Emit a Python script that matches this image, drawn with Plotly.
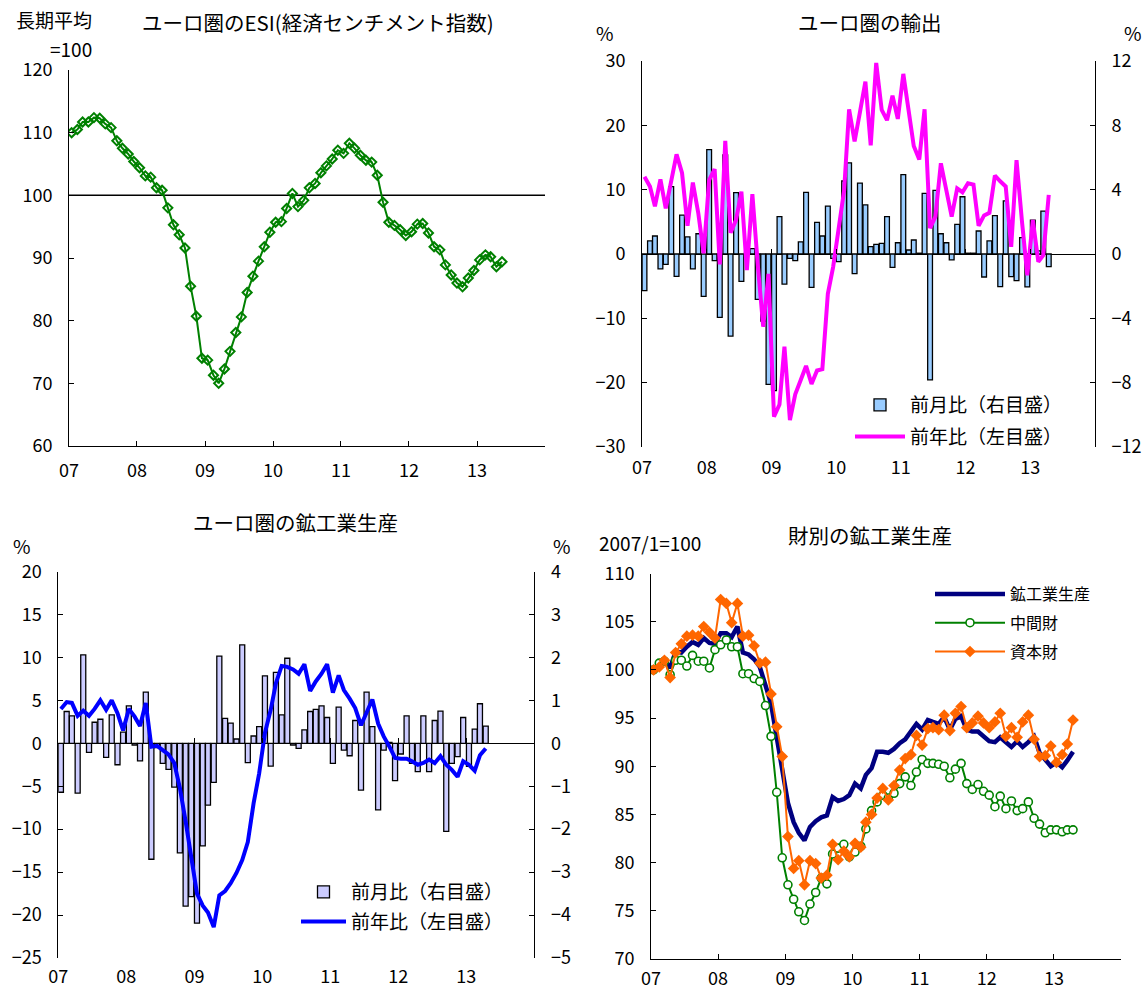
import pandas as pd
import plotly.graph_objects as go

FONT = "Noto Sans CJK JP"
W, H = 1145, 993

# ---------------- data ----------------
year_ticks = ["2007-01-01", "2008-01-01", "2009-01-01", "2010-01-01", "2011-01-01",
              "2012-01-01", "2013-01-01", "2014-01-01"]
year_labels = ["07", "08", "09", "10", "11", "12", "13", ""]

esi_months = (pd.date_range("2007-01-01", periods=77, freq="MS") + pd.Timedelta(days=14)).tolist()
months = (pd.date_range("2007-01-01", periods=76, freq="MS") + pd.Timedelta(days=14)).tolist()

# ESI (long-term average = 100)
esi = [110.0, 110.5, 111.7, 111.7, 112.4, 112.3, 111.4, 110.8, 108.7, 107.5, 106.6, 105.4,
       104.4, 103.1, 102.9, 101.2, 100.8, 98.0, 95.3, 93.7, 91.6, 85.5, 80.7, 74.0,
       73.7, 71.3, 70.0, 72.3, 75.1, 78.1, 80.6, 84.5, 87.1, 89.5, 91.8, 94.1,
       95.7, 95.8, 97.9, 100.3, 98.2, 99.2, 101.2, 101.9, 103.6, 104.7, 105.8, 107.2,
       106.7, 108.3, 107.5, 106.4, 105.6, 105.3, 103.2, 98.9, 95.7, 95.2, 94.5, 93.6,
       94.2, 95.4, 95.5, 94.0, 91.8, 91.3, 88.9, 87.3, 86.0, 85.4, 86.8, 88.0,
       89.7, 90.5, 90.2, 88.6, 89.4]

# Euro-area exports: m/m % (right scale) and y/y % (left scale)
exp_mom = [-2.28, 0.81, 1.12, -0.93, -0.64, 4.19, -1.39, 2.42, 1.06, -0.93, 1.26, -2.63,
           6.49, -0.41, -3.94, 6.16, -5.10, 3.81, -1.70, 0.10, 0.33, -2.82, -4.17, -8.10,
           -8.50, 2.32, -1.87, -0.27, -0.41, 0.75, 3.83, -2.07, 1.97, 1.12, 2.98, -0.27,
           -0.48, 4.54, 5.66, -1.22, 4.41, 3.05, 0.46, 0.60, 0.66, 2.32, -0.83, 0.70,
           4.93, 0.25, 0.87, 0.05, 3.77, -7.83, 3.96, 1.26, 0.70, -0.37, 1.84, 3.56,
           0.05, 0.05, 1.43, -1.43, 0.81, 2.38, -2.03, 3.30, -1.41, -1.66, 1.02, -2.05,
           2.11, 0.20, 2.67, -0.79]
exp_yoy = [12.0, 10.5, 7.4, 11.6, 7.1, 11.3, 15.5, 12.6, 4.4, 11.1, 6.3, 0.1,
           11.5, 13.2, -1.6, 17.6, 3.3, 5.3, 9.7, -2.5, 9.3, -1.5, -11.3, -3.1,
           -25.3, -23.4, -14.4, -25.8, -21.8, -19.6, -17.4, -20.2, -18.1, -17.9, -6.2, -2.0,
           3.7, 9.9, 22.5, 17.5, 22.0, 26.8, 16.9, 29.7, 22.4, 20.8, 24.6, 21.0,
           28.0, 22.4, 16.8, 14.7, 22.5, 4.0, 5.8, 14.1, 9.9, 5.8, 10.2, 9.6,
           11.0, 10.8, 4.4, 6.0, 6.4, 12.2, 11.3, 10.5, 1.1, 14.6, 5.0, -3.3,
           5.3, -1.2, -0.2, 9.2]

# Euro-area industrial production: m/m % (right scale) and y/y % (left scale)
ip_mom = [-1.14, 0.74, 0.64, -1.16, 2.06, -0.21, 0.49, 0.56, -0.33, 0.66, -0.50, 0.26,
          0.87, -0.04, -0.41, 1.19, -2.70, -0.10, -0.47, -0.61, -1.02, -2.55, -3.79, -3.57,
          -4.19, -2.39, -1.44, -0.91, 2.03, 0.58, 0.47, 0.10, 2.29, -0.45, 0.17, 0.39,
          1.57, -0.53, 1.65, 0.66, 1.98, -0.04, -0.12, 0.31, 0.74, 0.79, 0.87, 0.60,
          -0.47, 0.84, -0.16, -0.29, 0.53, -1.09, 1.19, 0.39, -1.55, -0.16, 0.02, -0.87,
          -0.25, 0.64, -0.47, -0.66, 0.64, -0.66, 0.53, 0.75, -2.05, -0.47, -0.31, 0.60,
          -0.54, 0.33, 0.92, 0.40]
ip_yoy = [4.0, 4.8, 4.7, 3.2, 3.8, 3.2, 4.0, 5.0, 3.9, 5.0, 3.5, 1.5,
          4.0, 3.1, 2.0, 4.7, -0.4, -0.3, -0.8, -1.3, -2.3, -5.2, -9.1, -13.6,
          -17.5, -18.9, -19.7, -21.4, -17.7, -17.2, -16.3, -15.1, -13.6, -11.5, -7.0, -3.5,
          1.2, 3.9, 7.0, 9.0, 8.9, 8.6, 8.1, 9.2, 6.1, 7.2, 8.1, 9.2,
          5.9, 7.9, 6.2, 5.2, 4.1, 2.1, 3.6, 5.1, 2.3, 0.8, -0.4, -1.7,
          -1.8, -1.8, -2.1, -2.5, -2.3, -1.9, -2.3, -1.5, -2.5, -3.1, -3.9, -2.1,
          -2.5, -3.2, -1.4, -0.6]

# Production by goods (2007/1 = 100)
ip_total = [100.0, 100.4, 101.0, 100.2, 101.9, 101.8, 102.4, 102.9, 102.6, 103.3, 102.8, 102.7,
            103.8, 103.8, 103.4, 104.5, 101.8, 101.6, 101.1, 100.3, 98.4, 96.5, 93.0, 89.8,
            86.2, 84.2, 83.1, 82.3, 83.7, 84.3, 84.7, 84.9, 86.8, 86.4, 86.6, 87.0,
            88.2, 87.7, 89.1, 89.8, 91.5, 91.5, 91.4, 91.8, 92.4, 92.8, 93.7, 94.4,
            93.8, 94.8, 94.6, 94.4, 95.1, 93.8, 94.9, 95.2, 93.8, 93.6, 93.6, 93.1,
            92.6, 92.5, 93.0, 92.5, 92.0, 92.6, 92.0, 92.5, 93.1, 91.4, 90.6, 90.0,
            90.4, 89.9, 90.6, 91.5]
ip_intermediate = [100.0, 100.7, 100.9, 99.5, 101.0, 101.0, 100.4, 101.5, 100.9, 100.9, 100.2, 102.1,
                   102.6, 103.1, 102.4, 102.4, 99.6, 99.6, 99.1, 98.8, 96.3, 93.1, 87.3, 80.5,
                   77.7, 76.2, 74.9, 74.0, 75.7, 76.9, 78.4, 77.8, 80.9, 81.5, 81.9, 80.6,
                   81.1, 81.7, 83.5, 85.4, 86.3, 87.0, 86.7, 87.2, 88.2, 88.9, 88.0, 89.4,
                   90.7, 90.3, 90.3, 90.2, 90.0, 88.8, 89.7, 90.3, 88.2, 87.6, 88.1, 87.4,
                   87.0, 85.8, 86.9, 85.6, 86.4, 85.4, 85.6, 86.3, 84.6, 84.0, 83.1, 83.4,
                   83.4, 83.2, 83.4, 83.4]
ip_capital = [100.0, 100.3, 101.0, 99.2, 101.8, 102.7, 103.5, 103.6, 103.5, 104.5, 103.9, 103.3,
              107.3, 106.9, 104.9, 106.9, 103.5, 103.6, 102.5, 100.7, 100.8, 97.5, 94.1, 91.0,
              82.7, 79.4, 80.2, 77.7, 80.2, 79.9, 78.4, 78.7, 81.9, 80.3, 81.2, 80.6,
              82.0, 81.6, 84.2, 85.0, 86.7, 87.7, 86.5, 88.0, 89.6, 90.8, 91.2, 93.2,
              92.2, 93.9, 94.0, 93.8, 95.3, 93.7, 95.5, 96.2, 94.0, 94.5, 95.2, 94.5,
              94.0, 94.6, 95.5, 93.1, 94.0, 93.0, 94.6, 95.3, 92.8, 91.0, 91.1, 92.1,
              90.4, 91.2, 92.3, 94.8]

# ---------------- layout helpers ----------------
def xd(a, b):
    return [a / W, b / W]


def yd(top, bottom):
    return [1 - bottom / H, 1 - top / H]


def py(pix):
    return 1 - pix / H


TICKFONT = dict(family=FONT, size=18, color="black")
BAR_W = 27 * 24 * 3600 * 1000

base_axis = dict(showgrid=False, zeroline=False, showline=True, linecolor="black", linewidth=1,
                 ticks="inside", ticklen=5, tickcolor="black", tickwidth=1, tickfont=TICKFONT)


def xaxis(domain, anchor, **kw):
    d = dict(base_axis)
    d.update(dict(domain=domain, anchor=anchor, type="date", range=["2007-01-01", "2014-01-01"],
                  tickmode="array", tickvals=year_ticks, ticktext=year_labels,
                  ticklabelstandoff=8))
    d.update(kw)
    return d


def yaxis(domain, anchor, rng, dtick, **kw):
    d = dict(base_axis)
    d.update(dict(domain=domain, anchor=anchor, range=rng, dtick=dtick, tick0=0,
                  ticklabelstandoff=12))
    d.update(kw)
    return d


fig = go.Figure()

# ---- panel 1: ESI ----
fig.add_trace(go.Scatter(x=esi_months, y=esi, mode="lines+markers", xaxis="x", yaxis="y",
                         line=dict(color="#008000", width=2),
                         marker=dict(symbol="diamond-open", size=7, color="#008000",
                                     line=dict(width=2, color="#008000")),
                         showlegend=False))

# ---- panel 2: exports ----
fig.add_trace(go.Bar(x=months, y=exp_mom, xaxis="x2", yaxis="y2", width=BAR_W,
                     marker=dict(color="#99CCFF", line=dict(color="black", width=1.3)),
                     name="前月比（右目盛）", legend="legend2", legendgroup="e1"))
fig.add_trace(go.Scatter(x=months, y=exp_yoy, mode="lines", xaxis="x2", yaxis="y3",
                         line=dict(color="#FF00FF", width=4),
                         name="前年比（左目盛）", legend="legend2", legendgroup="e2"))
fig.add_trace(go.Scatter(x=[months[0]], y=[None], xaxis="x5", yaxis="y2", showlegend=False,
                         hoverinfo="skip"))

# ---- panel 3: industrial production ----
fig.add_trace(go.Bar(x=months, y=ip_mom, xaxis="x3", yaxis="y4", width=BAR_W,
                     marker=dict(color="#CCCCFF", line=dict(color="black", width=1.3)),
                     name="前月比（右目盛）", legend="legend3", legendgroup="p1"))
fig.add_trace(go.Scatter(x=months, y=ip_yoy, mode="lines", xaxis="x3", yaxis="y5",
                         line=dict(color="#0000FF", width=4),
                         name="前年比（左目盛）", legend="legend3", legendgroup="p2"))
fig.add_trace(go.Scatter(x=[months[0]], y=[None], xaxis="x6", yaxis="y4", showlegend=False,
                         hoverinfo="skip"))

# ---- panel 4: by goods ----
fig.add_trace(go.Scatter(x=months, y=ip_total, mode="lines", xaxis="x4", yaxis="y6",
                         line=dict(color="#000080", width=4.5),
                         name="鉱工業生産", legend="legend4", legendgroup="g1"))
fig.add_trace(go.Scatter(x=months, y=ip_intermediate, mode="lines+markers", xaxis="x4", yaxis="y6",
                         line=dict(color="#008000", width=2),
                         marker=dict(symbol="circle", size=8, color="white",
                                     line=dict(color="#008000", width=1.6)),
                         name="中間財", legend="legend4", legendgroup="g2"))
fig.add_trace(go.Scatter(x=months, y=ip_capital, mode="lines+markers", xaxis="x4", yaxis="y6",
                         line=dict(color="#FF6600", width=2),
                         marker=dict(symbol="diamond", size=9, color="#FF6600"),
                         name="資本財", legend="legend4", legendgroup="g3"))

P1x, P1y = xd(69, 545), yd(70, 446)
P2x, P2y = xd(642, 1095), yd(61, 447)
P3x, P3y = xd(58.3, 534.3), yd(571.5, 958)
P4x, P4y = xd(651, 1121), yd(573.5, 959)

legend_common = dict(xanchor="left", yanchor="top", bgcolor="rgba(0,0,0,0)",
                     font=dict(family=FONT, size=19, color="black"))

fig.update_layout(
    width=W, height=H, margin=dict(l=0, r=0, t=0, b=0),
    paper_bgcolor="white", plot_bgcolor="white", template="none",
    font=dict(family=FONT, size=18, color="black"),
    xaxis=xaxis(P1x, "y"),
    yaxis=yaxis(P1y, "x", [60, 120], 10),
    xaxis2=xaxis(P2x, "y2", showline=False, ticks=""),
    yaxis2=yaxis(P2y, "x2", [-12, 12], 4, side="right", zeroline=True, zerolinecolor="black",
                 zerolinewidth=1),
    yaxis3=yaxis(P2y, "x2", [-30, 30], 10, side="left", overlaying="y2"),
    xaxis5=xaxis(P2x, "free", overlaying="x2", position=py(254), showline=False,
                 showticklabels=False),
    xaxis3=xaxis(P3x, "y4", showline=False, ticks="", ticklabelstandoff=6),
    yaxis4=yaxis(P3y, "x3", [-5, 4], 1, side="right", zeroline=True, zerolinecolor="black",
                 zerolinewidth=1),
    yaxis5=yaxis(P3y, "x3", [-25, 20], 5, side="left", overlaying="y4"),
    xaxis6=xaxis(P3x, "free", overlaying="x3", position=py(743.3), showline=False,
                 showticklabels=False),
    xaxis4=xaxis(P4x, "y6", ticklabelstandoff=3),
    yaxis6=yaxis(P4y, "x4", [70, 110], 5),
    legend2=dict(legend_common, x=850 / W, y=py(386), itemwidth=50, tracegroupgap=4),
    legend3=dict(legend_common, x=296 / W, y=py(873), itemwidth=45, tracegroupgap=2),
    legend4=dict(legend_common, x=930 / W, y=py(577), itemwidth=70, tracegroupgap=5,
                 font=dict(family=FONT, size=16, color="black")),
    bargap=0.1,
    showlegend=True,
)

fig.add_shape(type="line", xref="x domain", x0=0, x1=1, yref="y", y0=100, y1=100,
              line=dict(color="black", width=1.5), layer="below")

# (x px, y px, text, xanchor, yanchor, font size)
notes = [
    (93, 34, "長期平均", "right", "bottom", 19),
    (93, 34, "=100", "right", "top", 19),
    (318, 22, "ユーロ圏のESI(経済センチメント指数)", "center", "middle", 20.5),
    (870, 22, "ユーロ圏の輸出", "center", "middle", 20.5),
    (605, 32, "%", "center", "middle", 19),
    (1133, 32, "%", "center", "middle", 19),
    (295, 522, "ユーロ圏の鉱工業生産", "center", "middle", 20.5),
    (22, 545, "%", "center", "middle", 19),
    (562, 545, "%", "center", "middle", 19),
    (870, 535, "財別の鉱工業生産", "center", "middle", 20.5),
    (650, 542, "2007/1=100", "center", "middle", 19),
]
for xpix, ypix, txt, xanc, yanc, fs in notes:
    fig.add_annotation(x=xpix / W, y=py(ypix), xref="paper", yref="paper", text=txt,
                       showarrow=False, xanchor=xanc, yanchor=yanc, align=xanc, borderpad=0,
                       font=dict(family=FONT, size=fs, color="black"))

fig.write_html("out.html", config={"displayModeBar": False},
               post_script="document.body.style.margin='0';document.body.style.overflow='hidden';")
